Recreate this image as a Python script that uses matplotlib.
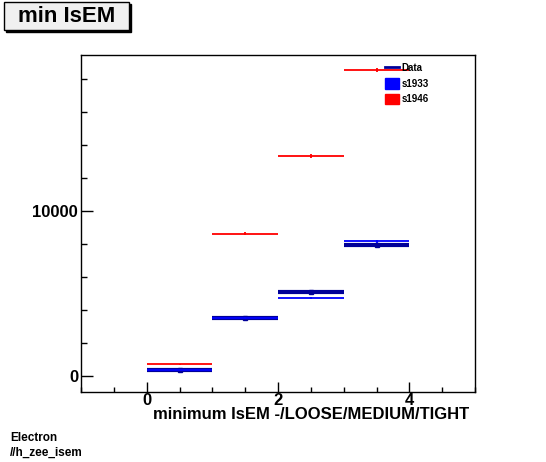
import numpy as np
import matplotlib
matplotlib.use('Agg')
import matplotlib.pyplot as plt
from matplotlib.lines import Line2D
from matplotlib.patches import Patch, Rectangle
from matplotlib.ticker import MultipleLocator

plt.rcParams['font.family'] = ['Liberation Sans', 'DejaVu Sans']
plt.rcParams['font.weight'] = 'bold'

# histogram contents (bins of width 1 from 0 to 4)
bin_edges = [0, 1, 2, 3, 4]
data_vals = [364, 3497, 5109, 7958]
s1933_vals = [364, 3500, 4709, 8162]
s1946_vals = [709, 8606, 13333, 18527]

centers = [(bin_edges[i] + bin_edges[i + 1]) / 2 for i in range(len(bin_edges) - 1)]
halfw = [(bin_edges[i + 1] - bin_edges[i]) / 2 for i in range(len(bin_edges) - 1)]

dark_blue = '#000099'
blue = '#0000ff'
red = '#ff0000'

fig = plt.figure(figsize=(5.46, 4.62), dpi=100)
ax = fig.add_axes([81 / 546, 1 - 392 / 462, (475 - 81) / 546, (392 - 55) / 462])

# Data
ax.errorbar(centers, data_vals, xerr=halfw, yerr=np.sqrt(data_vals), fmt='s', ms=2.5,
            color=dark_blue, elinewidth=3, capsize=0, zorder=3)
# s1933
ax.errorbar(centers, s1933_vals, xerr=halfw, yerr=np.sqrt(s1933_vals), fmt='none',
            color=blue, elinewidth=1.3, capsize=0, zorder=4)
# s1946
ax.errorbar(centers, s1946_vals, xerr=halfw, yerr=np.sqrt(s1946_vals), fmt='none',
            color=red, elinewidth=1.3, capsize=0, zorder=4)

ax.set_xlim(-1, 5)
ax.set_ylim(-970, 19450)
ax.xaxis.set_major_locator(MultipleLocator(2))
ax.xaxis.set_minor_locator(MultipleLocator(0.5))
ax.yaxis.set_major_locator(MultipleLocator(10000))
ax.yaxis.set_minor_locator(MultipleLocator(2000))
ax.tick_params(axis='both', which='both', direction='in', top=False, right=False,
               labelsize=12, width=1)
ax.tick_params(axis='y', which='major', length=8.5, pad=2)
ax.tick_params(axis='y', which='minor', length=4.3)
ax.tick_params(axis='x', which='major', length=7, pad=1)
ax.tick_params(axis='x', which='minor', length=3.6)
for lbl in ax.get_xticklabels() + ax.get_yticklabels():
    lbl.set_fontweight('bold')
for sp in ax.spines.values():
    sp.set_linewidth(1)

ax.set_xlabel('minimum IsEM -/LOOSE/MEDIUM/TIGHT', fontsize=12, fontweight='bold',
              loc='right', labelpad=-1)
ax.xaxis.label.set_x(0.985)

# legend
handles = [Line2D([], [], color=dark_blue, lw=2),
           Patch(facecolor=blue, edgecolor=blue),
           Patch(facecolor=red, edgecolor=red)]
fig.legend(handles, ['Data', 's1933', 's1946'], loc='upper left',
           bbox_to_anchor=(378 / 546, 1 - 56 / 462), frameon=False,
           prop={'size': 7, 'weight': 'bold'}, handlelength=1.5, handleheight=1.3,
           handletextpad=0.2, labelspacing=0.5, borderpad=0.2)

# title box with shadow
fig.patches.append(Rectangle((6 / 546, 1 - 32 / 462), 125 / 546, 28 / 462,
                             transform=fig.transFigure, facecolor='black',
                             edgecolor='black', zorder=1))
fig.patches.append(Rectangle((4 / 546, 1 - 30 / 462), 125 / 546, 28 / 462,
                             transform=fig.transFigure, facecolor='#f0f0f0',
                             edgecolor='black', lw=1, zorder=2))
fig.text(67 / 546, 1 - 17 / 462, 'min IsEM', fontsize=16, fontweight='bold',
         ha='center', va='center', zorder=3)

fig.text(10 / 546, 1 - 438 / 462, 'Electron', fontsize=8.5, fontweight='bold',
         ha='left', va='center')
fig.text(10 / 546, 1 - 453 / 462, '//h_zee_isem', fontsize=8.5, fontweight='bold',
         ha='left', va='center')

fig.savefig('out.png', dpi=100)
